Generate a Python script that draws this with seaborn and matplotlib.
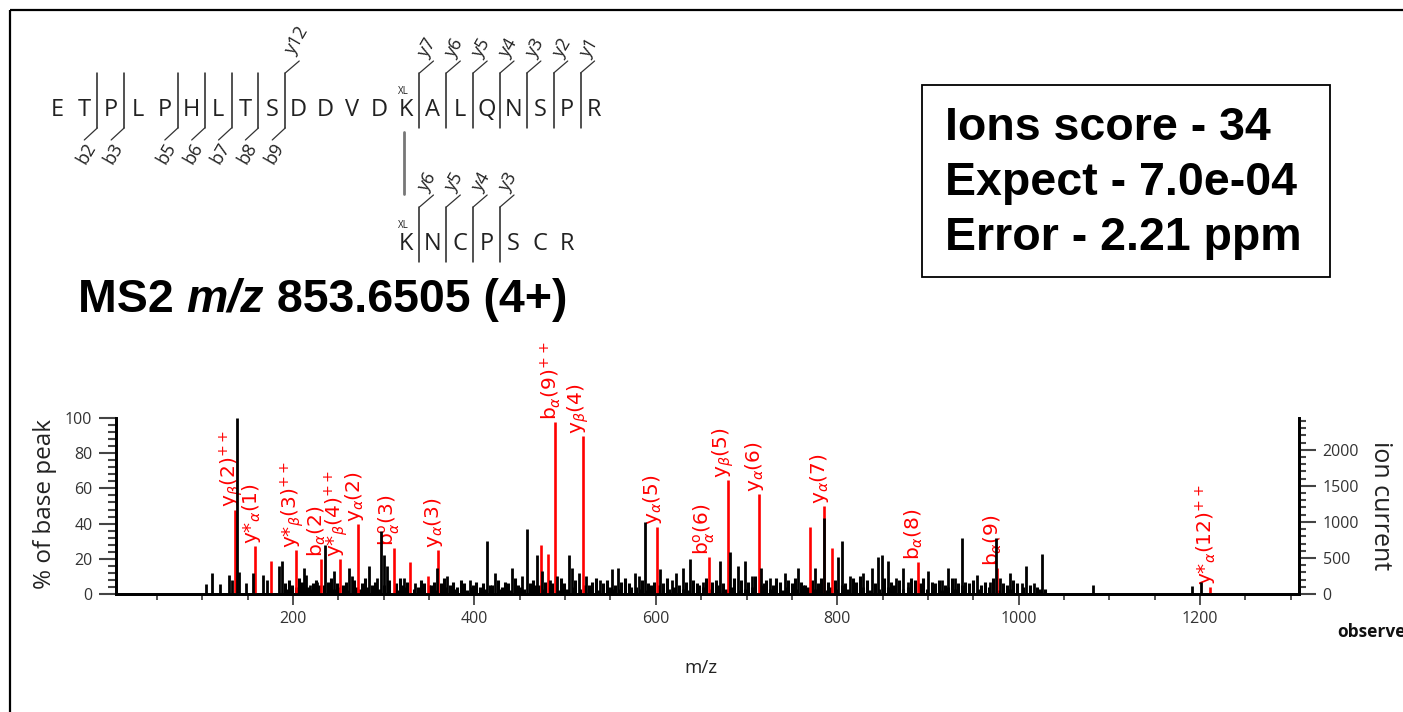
import matplotlib
matplotlib.use("Agg")
import matplotlib.pyplot as plt
import seaborn as sns
import pandas as pd
from matplotlib.patches import Rectangle
from matplotlib.ticker import FixedLocator, MultipleLocator

# ---------------- data ----------------
peak_mz = [104.6, 111.2, 120.0, 130.0, 133.3, 138.8, 141.0, 148.7, 156.4, 167.5,
           171.9, 185.2, 188.4, 212.7, 214.9, 219.3, 227.0, 235.9, 245.8, 262.3,
           264.6, 284.4, 293.2, 297.6, 300.9, 303.2, 323.0, 334.1, 358.4, 369.4,
           394.8, 413.5, 422.3, 441.1, 452.1, 457.6, 468.7, 474.2, 483.0, 490.8,
           504.0, 507.3, 515.0, 522.7, 538.2, 551.4, 558.0, 576.8, 581.2, 587.8,
           604.3, 617.6, 622.0, 629.7, 637.4, 651.8, 670.5, 681.6, 690.4, 698.1,
           705.9, 715.8, 725.7, 742.2, 756.6, 775.4, 785.3, 800.8, 805.1, 813.9,
           828.2, 838.2, 844.8, 849.2, 855.8, 864.6, 872.4, 877.9, 900.0, 915.4,
           922.0, 929.8, 937.5, 954.0, 968.4, 974.5, 979.4, 990.4, 1003.6, 1008.1,
           1016.9, 1025.7, 1081.9, 1191.2, 1201.1]
peak_pct = [5.7, 12, 5.7, 11, 8, 100, 12.5, 6, 12, 11,
            8, 16, 19, 15, 11, 5, 7, 28, 13, 15,
            10, 16, 9, 36, 22, 16, 9, 6, 15, 10,
            8, 30, 12, 15, 10, 37, 22, 13, 8, 10,
            22, 15, 12, 10, 8, 14, 15, 12, 10, 41,
            14, 8, 12, 15, 20, 7, 19, 24, 16, 19,
            10, 15, 9, 12, 15, 15, 43, 21, 30, 10,
            12, 15, 21, 22, 19, 9, 15, 7, 13, 8,
            15, 9, 32, 11, 7, 32, 9, 12, 6, 16,
            6, 23, 5, 4.5, 7]

noise_mz = [191, 196, 199, 207, 210, 217, 222, 225, 229, 239,
            242, 249, 255, 258, 267, 270, 276, 279, 287, 290,
            306, 314, 318, 321, 326, 338, 341, 345, 352, 355,
            363, 366, 373, 377, 381, 385, 389, 398, 402, 406,
            409, 417, 426, 430, 434, 437, 445, 448, 461, 465,
            471, 478, 486, 495, 499, 511, 526, 530, 534, 542,
            546, 555, 562, 566, 570, 573, 585, 591, 595, 598,
            608, 612, 626, 633, 641, 645, 648, 655, 662, 666,
            674, 686, 694, 702, 709, 719, 722, 729, 733, 737,
            746, 750, 753, 760, 765, 772, 779, 782, 790, 797,
            809, 817, 821, 825, 833, 842, 852, 859, 868, 881,
            886, 891, 895, 904, 908, 912, 919, 926, 933, 941,
            945, 950, 958, 963, 972, 983, 987, 994, 998, 1012,
            1020, 1029]
noise_pct = [6, 8, 5, 9, 7, 4, 6, 8, 5, 7,
             9, 6, 5, 7, 8, 4, 6, 9, 5, 7,
             8, 6, 9, 5, 7, 4, 8, 6, 5, 7,
             6, 9, 5, 7, 4, 8, 6, 5, 7, 4,
             6, 5, 8, 4, 7, 6, 9, 5, 6, 8,
             5, 7, 6, 9, 6, 8, 5, 7, 9, 6,
             8, 5, 7, 9, 6, 4, 8, 6, 5, 7,
             6, 9, 5, 7, 8, 6, 5, 9, 7, 8,
             6, 9, 8, 7, 10, 6, 8, 5, 9, 7,
             8, 6, 9, 7, 5, 8, 6, 9, 7, 8,
             6, 9, 7, 10, 8, 6, 9, 7, 8, 9,
             8, 6, 9, 7, 6, 8, 5, 9, 6, 7,
             6, 8, 5, 7, 9, 6, 5, 8, 6, 5,
             4, 3]

noise2_mz = [193, 203, 214, 220, 234, 245, 251, 261, 274, 282,
             295, 300, 316, 324, 333, 343, 350, 357, 368, 379,
             392, 396, 412, 420, 428, 440, 451, 455, 467, 476,
             483, 492, 502, 509, 517, 521, 536, 549, 553, 560,
             578, 583, 589, 603, 615, 620, 630, 637, 652, 660,
             670, 677, 683, 692, 698, 706, 716, 726, 740, 743,
             756, 762, 768, 776, 787, 793, 800, 805, 812, 828,
             836, 846, 856, 863, 872, 878, 899, 916, 922, 930,
             937, 955, 967, 977, 990, 1005, 1024]
noise2_pct = [3, 4, 2, 3, 5, 3, 4, 2, 3, 4,
              3, 5, 2, 4, 3, 3, 5, 2, 4, 3,
              2, 4, 3, 5, 3, 2, 4, 3, 5, 3,
              4, 2, 3, 4, 3, 5, 2, 4, 3, 3,
              4, 3, 2, 5, 3, 4, 3, 2, 4, 3,
              5, 3, 4, 2, 3, 4, 5, 3, 2, 4,
              3, 5, 4, 3, 2, 4, 3, 5, 3, 4,
              2, 3, 4, 5, 3, 4, 3, 2, 4, 3,
              5, 3, 4, 2, 3, 4, 3]

ion_mz = [136.6, 158.6, 176.3, 203.9, 231.4, 252.4, 272.3, 310.9, 329.6, 348.4,
          359.4, 473.0, 480.8, 488.5, 519.4, 601.0, 658.3, 679.3, 713.5, 769.8,
          785.2, 794.0, 888.9, 976.0, 1211.0]
ion_pct = [48, 27, 19, 25, 20, 20, 40, 26, 18, 10,
           25, 28, 23, 97.7, 90, 38, 21, 65, 57, 38,
           50, 26, 18, 15, 4]
ion_labels = [r"y$_\beta$(2)$^{++}$", r"y*$_\alpha$(1)", "", r"y*$_\beta$(3)$^{++}$",
              r"b$_\alpha$(2)", r"y*$_\beta$(4)$^{++}$", r"y$_\alpha$(2)",
              r"b$^{\mathrm{o}}_\alpha$(3)", "", "", r"y$_\alpha$(3)", "", "",
              r"b$_\alpha$(9)$^{++}$", r"y$_\beta$(4)", r"y$_\alpha$(5)",
              r"b$^{\mathrm{o}}_\alpha$(6)", r"y$_\beta$(5)", r"y$_\alpha$(6)", "",
              r"y$_\alpha$(7)", "", r"b$_\alpha$(8)", r"b$_\alpha$(9)",
              r"y*$_\alpha$(12)$^{++}$"]

base_peak_counts = 2440
xticks = [200, 400, 600, 800, 1000, 1200]
yticks_pct = [0, 20, 40, 60, 80, 100]
yticks_ion = [0, 500, 1000, 1500, 2000]

seq1 = "ETPLPHLTSDDVDKALQNSPR"
seq2 = "KNCPSCR"
b_ions1 = [2, 3, 5, 6, 7, 8, 9]
y_ions1 = [1, 2, 3, 4, 5, 6, 7, 12]
y_ions2 = [3, 4, 5, 6]
xl_index1 = 13
xl_index2 = 0

score_lines = ["Ions score - 34", "Expect - 7.0e-04", "Error - 2.21 ppm"]
title_parts = ["MS2 ", "m/z", " 853.6505 (4+)"]

# ---------------- figure ----------------
sns.set_theme(style="ticks")
plt.rcParams["font.family"] = ["Open Sans", "DejaVu Sans"]
plt.rcParams["axes.unicode_minus"] = False

W, H = 1403, 712
fig = plt.figure(figsize=(W / 100, H / 100), dpi=100)
fig.patch.set_facecolor("white")

L, R, B, T = 116, 1299, 594, 418
ax = fig.add_axes([L / W, 1 - B / H, (R - L) / W, (B - T) / H])
ax.set_facecolor("none")

noise = pd.DataFrame({"mz": noise_mz + noise2_mz, "pct": noise_pct + noise2_pct})
peaks = pd.DataFrame({"mz": peak_mz, "pct": peak_pct})
ions = pd.DataFrame({"mz": ion_mz, "pct": ion_pct, "label": ion_labels})

ax.vlines(noise["mz"], 0, noise["pct"], color="black", lw=2.2, zorder=2)
ax.vlines(ions["mz"], 0, ions["pct"], color="#ff0000", lw=1.9, zorder=3)
ax.vlines(peaks["mz"], 0, peaks["pct"], color="black", lw=2.0, zorder=4)

for _, r in ions.iterrows():
    if r["label"]:
        ax.annotate(r["label"], (r["mz"], r["pct"]), xytext=(-3, 1.5),
                    textcoords="offset points", rotation=90, ha="center",
                    va="bottom", color="#ff0000", fontsize=14.5,
                    family="DejaVu Sans", annotation_clip=False, zorder=1)

ax.set_xlim(5, 1309)
ax.set_ylim(0, 100)
ax.xaxis.set_major_locator(FixedLocator(xticks))
ax.xaxis.set_minor_locator(MultipleLocator(50))
ax.yaxis.set_major_locator(FixedLocator(yticks_pct))
ax.yaxis.set_minor_locator(MultipleLocator(4))
tick_col = "#444444"
ax.tick_params(axis="x", which="major", length=8, width=1.3, color=tick_col,
               labelsize=11.5, labelcolor="#333333", pad=4)
ax.tick_params(axis="x", which="minor", length=4.5, width=1.3, color=tick_col)
ax.tick_params(axis="y", which="major", length=12, width=1.5, color=tick_col,
               labelsize=11.5, labelcolor="#333333", pad=5)
ax.tick_params(axis="y", which="minor", length=6, width=1.5, color=tick_col)

ax2 = ax.twinx()
ax2.set_ylim(0, base_peak_counts)
ax2.yaxis.set_major_locator(FixedLocator(yticks_ion))
ax2.yaxis.set_minor_locator(MultipleLocator(100))
ax2.tick_params(axis="y", which="major", length=12, width=1.5, color=tick_col,
                labelsize=11.5, labelcolor="#333333", pad=5)
ax2.tick_params(axis="y", which="minor", length=5, width=1.5, color=tick_col)

for a in (ax, ax2):
    a.spines["top"].set_visible(False)
    for s in ("left", "bottom", "right"):
        a.spines[s].set_linewidth(2.0)
        a.spines[s].set_color("black")
sns.despine(ax=ax, top=True, right=False)

# ---------------- overlay (pixel coords) ----------------
ov = fig.add_axes([0, 0, 1, 1], zorder=5)
ov.set_xlim(0, W)
ov.set_ylim(H, 0)
ov.axis("off")

# figure border
ov.add_patch(Rectangle((10, 10), 1500, 800, fill=False, lw=1.6, ec="black",
                       clip_on=False))

# axis titles
ov.text(45, 504, "% of base peak", rotation=90, ha="center", va="center",
        fontsize=17.5, color="#222222")
ov.text(1381, 506, "ion current", rotation=-90, ha="center", va="center",
        fontsize=18, color="#222222")
ov.text(701, 668, "m/z", ha="center", va="center", fontsize=13.5, color="#222222")
ov.text(1337, 632, "observed", ha="left", va="center", fontsize=12.5,
        fontweight="bold", color="#111111")

# score box
ov.add_patch(Rectangle((922, 85), 408, 192, fill=False, lw=1.3, ec="black"))
for i, line in enumerate(score_lines):
    ov.text(945, 128 + 55 * i, line, ha="left", va="center", fontsize=33.5,
            fontweight="bold", family="Liberation Sans", color="black")

# MS2 title, pieces placed one after another
renderer = fig.canvas.get_renderer()
xcur = 78
for part, sty in zip(title_parts, ["normal", "italic", "normal"]):
    t = ov.text(xcur, 300, part, ha="left", va="center", fontsize=33.5,
                fontweight="bold", style=sty, family="Liberation Sans",
                color="black")
    bb = t.get_window_extent(renderer=renderer)
    xcur += bb.width

# peptide sequences
DX = 26.85
seq_col = "#222222"
seq_font = ["Open Sans", "DejaVu Sans"]


def draw_seq(seq, x0, yc, b_list, y_list, xl_idx):
    n = len(seq)
    for i, ch in enumerate(seq):
        ov.text(x0 + i * DX, yc + 8.5, ch, ha="center", va="baseline",
                fontsize=17, color=seq_col, family=seq_font)
    top, bot = yc - 35, yc + 20
    bounds = set([b - 0.5 for b in b_list]) | set([n - y - 0.5 for y in y_list])
    for bidx in bounds:
        bx = x0 + bidx * DX
        ov.plot([bx, bx], [top, bot], color="#222222", lw=1.1)
    for b in b_list:
        bx = x0 + (b - 0.5) * DX
        ov.plot([bx, bx - 13], [bot, bot + 12], color="#333333", lw=0.9)
        ov.text(bx - 11, bot + 25, "b%d" % b, rotation=60, ha="center",
                va="center", fontsize=13, color=seq_col, family=seq_font)
    for y in y_list:
        bx = x0 + (n - y - 0.5) * DX
        ov.plot([bx, bx + 14], [top, top - 12], color="#333333", lw=0.9)
        off = 32 if y >= 10 else 25
        ov.text(bx + 8 + (3 if y >= 10 else 0), top - off, "y%d" % y,
                rotation=60, ha="center", va="center", fontsize=13,
                color=seq_col, family=seq_font)
    xk = x0 + xl_idx * DX
    ov.text(xk - 3, yc - 16, "XL", ha="center", va="center", fontsize=7,
            color=seq_col, family=seq_font)


draw_seq(seq1, 57, 108, b_ions1, y_ions1, xl_index1)
draw_seq(seq2, 57 + xl_index1 * DX, 242, [], y_ions2, xl_index2)
xk = 57 + xl_index1 * DX - 2
ov.plot([xk, xk], [132, 194], color="#777777", lw=2.0)

fig.savefig("out.png", dpi=100)
